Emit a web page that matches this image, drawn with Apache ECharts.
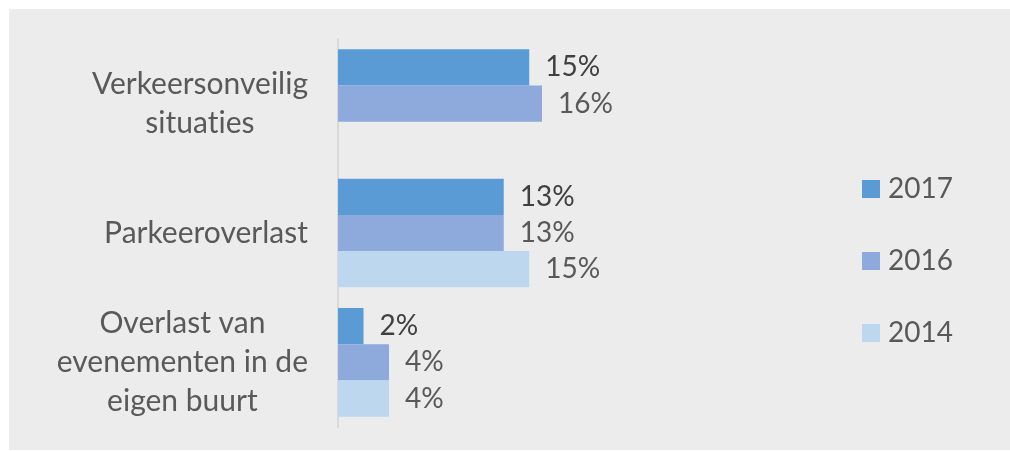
<!DOCTYPE html>
<html>
<head>
<meta charset="utf-8">
<script src="https://cdn.jsdelivr.net/npm/echarts@6/dist/echarts.min.js"></script>
<style>
  html, body { margin: 0; padding: 0; background: #ffffff; }
  #chart { position: absolute; left: 9px; top: 9px; width: 1001px; height: 441px; }
</style>
</head>
<body>
<div id="chart"></div>
<script>
// categories, top to bottom
const categories = ['Verkeersonveilig\nsituaties', 'Parkeeroverlast', 'Overlast van\nevenementen in de\neigen buurt'];
const years = ['2017', '2016', '2014'];
const values2017 = [15, 13, 2];
const values2016 = [16, 13, 4];
const values2014 = [null, 15, 4];
const colors = ['#5b9bd5', '#8eaadc', '#bdd7ee'];

const font = 'Lato, "Open Sans", sans-serif';

function makeSeries(name, data, color, labelColor) {
  return {
    name: name,
    type: 'bar',
    data: data,
    barGap: '0%',
    barCategoryGap: '16%',
    itemStyle: { color: color },
    label: {
      show: true,
      position: 'right',
      distance: 16,
      formatter: '{c}%',
      fontFamily: font,
      fontSize: 28,
      color: labelColor
    }
  };
}

const chart = echarts.init(document.getElementById('chart'));
const option = {
  backgroundColor: '#ececec',
  animation: false,
  grid: {
    left: 329,
    top: 30,
    width: 255,
    height: 388
  },
  legend: {
    orient: 'vertical',
    left: 853,
    top: 165,
    padding: 0,
    itemWidth: 18,
    itemHeight: 18,
    itemGap: 42,
    icon: 'rect',
    data: years,
    textStyle: {
      fontFamily: font,
      fontSize: 28,
      lineHeight: 30,
      padding: [0, 0, 0, 3],
      color: '#595959'
    }
  },
  xAxis: {
    type: 'value',
    min: 0,
    max: 20,
    show: false
  },
  yAxis: {
    type: 'category',
    inverse: true,
    data: categories,
    axisLine: { lineStyle: { color: '#d9d9d9', width: 2 } },
    axisTick: { length: 8, lineStyle: { color: '#d9d9d9', width: 2 } },
    axisLabel: {
      margin: 30,
      formatter: function (v) {
        // zero-width non-joiner keeps Lato from using its "ti" ligature
        return v.split('\n').map(function (s) {
          return '{c|' + s.replace(/ti/g, 't\u200Ci') + '}';
        }).join('\n');
      },
      rich: {
        c: {
          align: 'center',
          fontFamily: font,
          fontSize: 30,
          lineHeight: 39,
          color: '#595959'
        }
      }
    }
  },
  series: [
    makeSeries(years[0], values2017, colors[0], '#404040'),
    makeSeries(years[1], values2016, colors[1], '#595959'),
    makeSeries(years[2], values2014, colors[2], '#595959')
  ]
};
chart.setOption(option);
</script>
</body>
</html>
